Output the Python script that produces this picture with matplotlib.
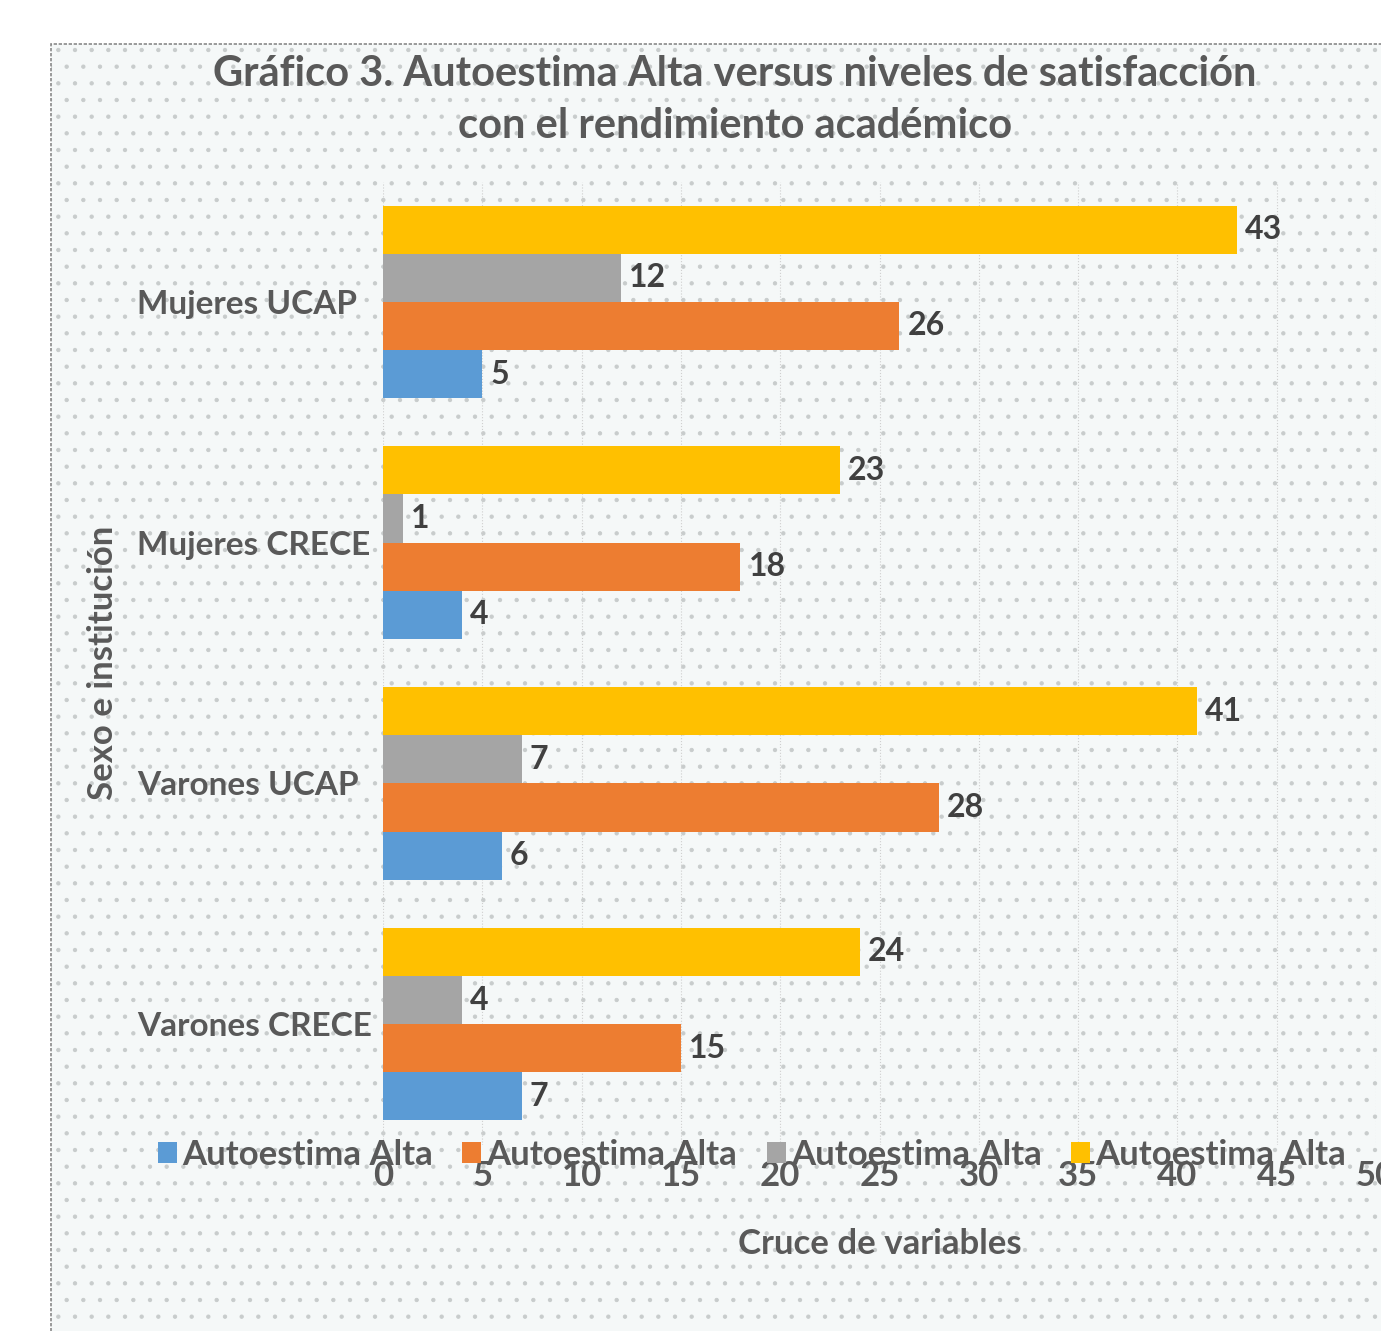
import numpy as np
import matplotlib
matplotlib.use('Agg')
import matplotlib.pyplot as plt
from matplotlib.patches import Rectangle

# data
categories = ['Mujeres UCAP', 'Mujeres CRECE', 'Varones UCAP', 'Varones CRECE']
series_names = ['Autoestima Alta', 'Autoestima Alta', 'Autoestima Alta', 'Autoestima Alta']
blue_vals = [5, 4, 6, 7]
orange_vals = [26, 18, 28, 15]
gray_vals = [12, 1, 7, 4]
yellow_vals = [43, 23, 41, 24]
colors = ['#5B9BD5', '#ED7D31', '#A5A5A5', '#FFC000']
xticks = [0, 5, 10, 15, 20, 25, 30, 35, 40, 45, 50]

plt.rcParams['font.family'] = ['Lato', 'DejaVu Sans']
plt.rcParams['hatch.linewidth'] = 0.7

W, H = 1381, 1331
fig = plt.figure(figsize=(W / 100, H / 100), dpi=100)
fig.patch.set_facecolor('white')

# chart area background with dotted pattern + frame
bg = Rectangle((51 / W, 0), 1 - 51 / W, 1 - 44 / H, transform=fig.transFigure,
               facecolor='#F5F8F8', edgecolor='#C8CCCC', hatch='.', linewidth=0, zorder=-2)
fig.patches.append(bg)
frame = Rectangle((51 / W, -0.01), 1, 1 - 44 / H + 0.01, transform=fig.transFigure,
                  facecolor='none', edgecolor='#8A8A8A', linewidth=1.2, linestyle=(0, (2, 1)), zorder=-1)
fig.patches.append(frame)

ax = fig.add_axes([383 / W, 1 - 1144.5 / H, (1376 - 383) / W, (1144.5 - 181.5) / H])
ax.set_facecolor('none')

all_vals = [blue_vals, orange_vals, gray_vals, yellow_vals]
n_cat = len(categories)
ypos = np.arange(n_cat)[::-1]  # top category first
bar_h = 0.2
offsets = [-1.5 * bar_h, -0.5 * bar_h, 0.5 * bar_h, 1.5 * bar_h]

handles = []
for vals, col, off, name in zip(all_vals, colors, offsets, series_names):
    b = ax.barh(ypos + off, vals, height=bar_h, color=col, label=name, zorder=3)
    handles.append(b)
    for y, v in zip(ypos + off, vals):
        ax.text(v + 0.4, y, str(v), va='center', ha='left', fontsize=23,
                fontweight='bold', color='#404040', zorder=4)

ax.set_xlim(0, 50)
ax.set_ylim(-0.5, n_cat - 0.5)
ax.set_xticks(xticks)
ax.set_xticklabels([str(t) for t in xticks], fontsize=25, fontweight='bold', color='#595959')
ax.set_yticks(ypos)
ax.set_yticklabels(categories, fontsize=24, fontweight='bold', color='#595959', ha='left')
ax.tick_params(axis='y', length=0, pad=(383 - 137) / 1.389)
ax.tick_params(axis='x', length=0, pad=11)
for s in ax.spines.values():
    s.set_visible(False)
ax.grid(axis='x', color='#CFCFCF', linewidth=0.8, linestyle=':', zorder=1)
ax.set_axisbelow(True)

ax.set_xlabel('Cruce de variables', fontsize=25, fontweight='bold', color='#595959', labelpad=26)
fig.text(103 / W, 1 - 663 / H, 'Sexo e institución', rotation=90, ha='center', va='center',
         fontsize=25, fontweight='bold', color='#595959')

fig.text(735 / W, 1 - 100 / H, 'Gráfico 3. Autoestima Alta versus niveles de satisfacción\ncon el rendimiento académico',
         ha='center', va='center', fontsize=30, fontweight='bold', color='#595959', linespacing=1.45)

leg = fig.legend(handles=handles, loc='center', bbox_to_anchor=(752 / W, 1 - 1155 / H), ncol=4,
                 frameon=False, fontsize=25, handlelength=0.55, handleheight=0.55,
                 handletextpad=0.15, columnspacing=0.85, borderaxespad=0)
for t in leg.get_texts():
    t.set_color('#595959')
    t.set_fontweight('bold')

fig.savefig('out.png', dpi=100)
